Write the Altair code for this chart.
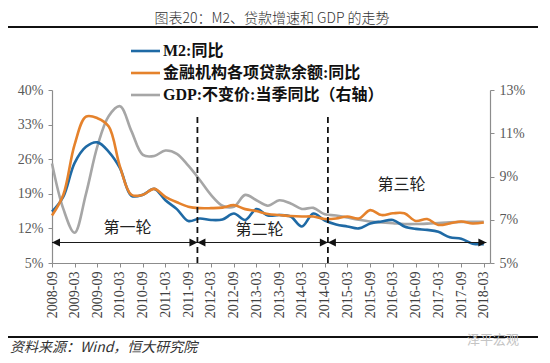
import altair as alt
import pandas as pd

# ---------------- data ----------------
quarters = [
    "2008-09", "2008-12",
    "2009-03", "2009-06", "2009-09", "2009-12",
    "2010-03", "2010-06", "2010-09", "2010-12",
    "2011-03", "2011-06", "2011-09", "2011-12",
    "2012-03", "2012-06", "2012-09", "2012-12",
    "2013-03", "2013-06", "2013-09", "2013-12",
    "2014-03", "2014-06", "2014-09", "2014-12",
    "2015-03", "2015-06", "2015-09", "2015-12",
    "2016-03", "2016-06", "2016-09", "2016-12",
    "2017-03", "2017-06", "2017-09", "2017-12",
    "2018-03",
]
m2 = [15.4, 18.4,
      25.2, 28.5, 29.4, 27.5,
      24.2, 18.6, 18.8, 20.0,
      17.7, 15.9, 13.5, 14.0,
      13.7, 13.8, 15.0, 13.7,
      15.9, 14.6, 14.7, 14.4,
      12.4, 15.0, 13.6, 12.8,
      12.4, 12.0, 13.0, 13.4,
      13.7, 12.4, 11.9, 11.7,
      11.3, 10.2, 9.9, 8.9,
      8.8]
loans = [14.6, 18.8,
         28.9, 34.6, 34.3, 32.6,
         24.5, 18.8, 18.8, 20.0,
         18.4, 17.3, 16.4, 16.1,
         16.1, 16.2, 16.7, 15.9,
         15.5, 14.9, 14.7, 14.5,
         14.4, 14.4, 13.9, 14.0,
         14.4, 14.0, 15.7, 14.7,
         15.05, 15.05, 13.5, 13.9,
         12.7, 13.0, 13.4, 13.0,
         13.2]
gdp = [9.6, 7.5,
       6.4, 8.2, 10.4, 11.8,
       12.25, 11.1, 10.0, 9.95,
       10.2, 10.05, 9.5, 8.85,
       8.15, 7.65, 7.6, 8.15,
       7.9, 7.65, 7.9, 7.75,
       7.5, 7.55, 7.25, 7.2,
       7.1, 7.0, 6.92, 6.88,
       6.84, 6.8, 6.8, 6.82,
       6.85, 6.88, 6.9, 6.9,
       6.9]

series_names = ["M2:同比", "金融机构各项贷款余额:同比", "GDP:不变价:当季同比（右轴）"]
series_colors = ["#1f6aa5", "#e5822c", "#a6a6a6"]

left_ticks = [5, 12, 19, 26, 33, 40]
right_ticks = [5, 7, 9, 11, 13]
x_tick_labels = ["2008-09", "2009-03", "2009-09", "2010-03", "2010-09", "2011-03",
                 "2011-09", "2012-03", "2012-09", "2013-03", "2013-09", "2014-03",
                 "2014-09", "2015-03", "2015-09", "2016-03", "2016-09", "2017-03",
                 "2017-09", "2018-03"]

divider_dates = ["2011-11-13", "2014-09-26"]
round_names = ["第一轮", "第二轮", "第三轮"]
round_label_dates = ["2010-05-01", "2013-03-25", "2016-05-10"]
arrow_starts = ["2008-09-01", "2011-11-13", "2014-09-26"]
arrow_ends = ["2011-11-13", "2014-09-26", "2018-03-22"]

title_text = "图表20：M2、贷款增速和 GDP 的走势"
source_text = "资料来源：Wind，恒大研究院"
watermark_text = "泽平宏观"

# ---------------- tables ----------------
def to_date(s):
    return pd.Timestamp(s + "-01") if len(s) == 7 else pd.Timestamp(s)

dates = [to_date(q) for q in quarters]
df_left = pd.DataFrame({
    "date": dates * 2,
    "value": m2 + loans,
    "series": [series_names[0]] * len(dates) + [series_names[1]] * len(dates),
})
df_gdp = pd.DataFrame({"date": dates, "value": gdp})
df_div = pd.DataFrame({"date": [pd.Timestamp(d) for d in divider_dates]})
df_rounds = pd.DataFrame({"date": [pd.Timestamp(d) for d in round_label_dates], "name": round_names})
df_arrows = pd.DataFrame({"start": [pd.Timestamp(d) for d in arrow_starts],
                          "end": [pd.Timestamp(d) for d in arrow_ends]})
df_one = pd.DataFrame({"k": [0]})

def dt(s):
    y, m = s.split("-")[:2]
    return alt.DateTime(year=int(y), month=int(m), date=1)

x_scale = alt.Scale(domain=[alt.DateTime(year=2008, month=9, date=1),
                            alt.DateTime(year=2018, month=4, date=20)])
x_axis = alt.Axis(values=[dt(s) for s in x_tick_labels], format="%Y-%m", labelAngle=-90,
                  title=None, grid=False, labelPadding=4, tickSize=4,
                  labelOverlap=False, labelFlush=False, labelBound=False,
                  labelFontSize=14, labelColor="#404040")

def XA(field):
    return alt.X(field, type="temporal", scale=x_scale, axis=x_axis)

SERIF = "Liberation Serif, Noto Sans CJK SC"
CJK = "Noto Sans CJK SC"

lines = alt.Chart(df_left).mark_line(interpolate="catmull-rom", strokeWidth=2.6).encode(
    x=XA("date"),
    y=alt.Y("value:Q", scale=alt.Scale(domain=[5, 40], nice=False, zero=False),
            axis=alt.Axis(values=left_ticks, labelExpr="datum.value + '%'", title=None,
                          grid=False, orient="left", tickSize=4, labelPadding=5)),
    color=alt.Color("series:N", scale=alt.Scale(domain=series_names[:2], range=series_colors[:2]),
                    legend=None),
)

dividers = alt.Chart(df_div).mark_rule(color="#111111", strokeWidth=1.8, strokeDash=[6, 4]).encode(
    x=XA("date"), y=alt.value(27), y2=alt.value(176)
)

arrow_lines = alt.Chart(df_arrows).mark_rule(color="#1a1a1a", strokeWidth=1.2).encode(
    x=XA("start"), x2="end:T", y=alt.value(152.5)
)
head_left = alt.Chart(df_arrows).mark_point(shape="M0,0L2,-1L2,1Z", filled=True, opacity=1,
                                            color="#111111", size=64, strokeWidth=0).encode(
    x=XA("start"), y=alt.value(152.5)
)
head_right = alt.Chart(df_arrows).mark_point(shape="M0,0L-2,-1L-2,1Z", filled=True, opacity=1,
                                             color="#111111", size=64, strokeWidth=0).encode(
    x=XA("end"), y=alt.value(152.5)
)

round_y = [138, 140, 95]
round_layers = []
for i, name in enumerate(round_names):
    round_layers.append(
        alt.Chart(df_rounds[df_rounds["name"] == name]).mark_text(
            font=CJK, fontSize=16, color="#222222", align="center", baseline="middle"
        ).encode(x=XA("date"), y=alt.value(round_y[i]), text="name:N")
    )

legend_layers = []
for i, (name, col) in enumerate(zip(series_names, series_colors)):
    yy = -39 + 22 * i
    legend_layers.append(alt.Chart(df_one).mark_rule(color=col, strokeWidth=2.6).encode(
        x=alt.value(79), x2=alt.value(108), y=alt.value(yy)))
    legend_layers.append(alt.Chart(df_one).mark_text(
        text=name, font=SERIF, fontSize=16, fontWeight="bold", color="#111111",
        align="left", baseline="middle").encode(x=alt.value(111), y=alt.value(yy)))

deco = [
    alt.Chart(df_one).mark_text(text=title_text, font=CJK, fontSize=14, fontWeight=300,
                                color="#333333", align="center", baseline="middle").encode(
        x=alt.value(220), y=alt.value(-71)),
    alt.Chart(df_one).mark_rule(color="#111111", strokeWidth=2).encode(
        x=alt.value(-44), x2=alt.value(486), y=alt.value(-63)),
    alt.Chart(df_one).mark_rule(color="#111111", strokeWidth=2).encode(
        x=alt.value(-44), x2=alt.value(486), y=alt.value(247)),
    alt.Chart(df_one).mark_text(text=source_text, font=CJK, fontSize=14, fontStyle="italic",
                                color="#333333", align="left", baseline="middle").encode(
        x=alt.value(-42), y=alt.value(258)),
    alt.Chart(df_one).mark_text(text=watermark_text, font=CJK, fontSize=13,
                                color="#c4c4c4", align="left", baseline="middle").encode(
        x=alt.value(415), y=alt.value(250)),
]

left = alt.layer(lines, dividers, arrow_lines, head_left, head_right,
                 *round_layers, *legend_layers, *deco)

right = alt.Chart(df_gdp).mark_line(interpolate="catmull-rom", strokeWidth=2.6,
                                    color=series_colors[2]).encode(
    x=XA("date"),
    y=alt.Y("value:Q", scale=alt.Scale(domain=[5, 13], nice=False, zero=False),
            axis=alt.Axis(values=right_ticks, labelExpr="datum.value + '%'", title=None,
                          grid=False, orient="right", tickSize=4, labelPadding=5)),
)

chart = alt.layer(right, left).resolve_scale(y="independent").properties(
    width=438, height=173,
    autosize=alt.AutoSizeParams(type="none"),
    padding={"left": 44, "top": 82, "right": 48, "bottom": 92},
).configure_view(stroke=None).configure_axis(
    domainColor="#8c8c8c", tickColor="#8c8c8c", labelFont="Liberation Serif",
    labelFontSize=14, labelColor="#595959", domainWidth=1.2,
)

chart.save("out.html", embed_options={"renderer": "svg", "actions": False})
